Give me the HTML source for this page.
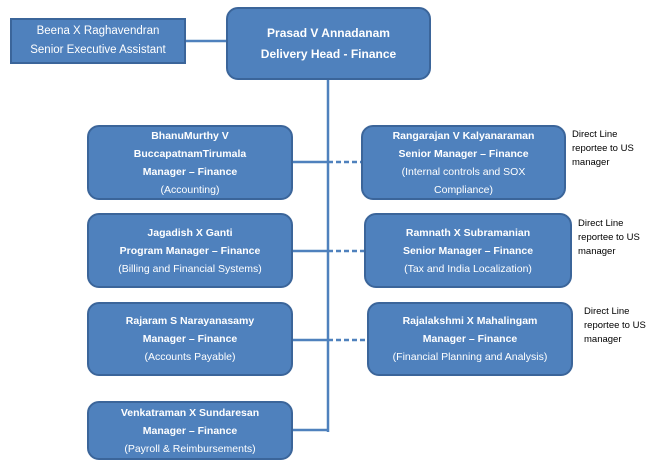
<!DOCTYPE html>
<html><head><meta charset="utf-8"><style>
body{margin:0;width:658px;height:470px;background:#fff;position:relative;overflow:hidden;font-family:"Liberation Sans",sans-serif}
.b{position:absolute;box-sizing:border-box;background:#4f81bd;border:2px solid #3b659a;border-radius:12px;color:#fff;font-size:10.5px;line-height:18px;text-align:center;display:flex;flex-direction:column;justify-content:center}
.b b{font-weight:bold}
.n{position:absolute;font-size:9.5px;line-height:14px;color:#000}
</style></head><body>
<svg width="658" height="470" style="position:absolute;left:0;top:0">
<g stroke="#4f81bd" stroke-width="2.5" fill="none">
<line x1="186" y1="41" x2="226" y2="41"/>
<line x1="328" y1="80" x2="328" y2="432"/>
<line x1="293" y1="162" x2="328" y2="162"/>
<line x1="293" y1="251" x2="328" y2="251"/>
<line x1="293" y1="340" x2="328" y2="340"/>
<line x1="293" y1="430" x2="328" y2="430"/>
<g stroke-dasharray="5,3"><line x1="328" y1="162" x2="361" y2="162"/><line x1="328" y1="251" x2="364" y2="251"/><line x1="328" y1="340" x2="367" y2="340"/></g>
</g></svg>
<div class="b" style="left:10px;top:18px;width:176px;height:46px;border-radius:0;font-size:11.5px;line-height:19px"><span>Beena X Raghavendran</span><span>Senior Executive Assistant</span></div>
<div class="b" style="left:226px;top:7px;width:205px;height:73px;font-size:12px;line-height:21px"><b>Prasad V Annadanam</b><b>Delivery Head - Finance</b></div>
<div class="b" style="left:87px;top:125px;width:206px;height:75px"><b>BhanuMurthy V</b><b>BuccapatnamTirumala</b><b>Manager – Finance</b><span>(Accounting)</span></div>
<div class="b" style="left:87px;top:213px;width:206px;height:75px"><b>Jagadish X Ganti</b><b>Program Manager – Finance</b><span>(Billing and Financial Systems)</span></div>
<div class="b" style="left:87px;top:302px;width:206px;height:74px"><b>Rajaram S Narayanasamy</b><b>Manager – Finance</b><span>(Accounts Payable)</span></div>
<div class="b" style="left:87px;top:401px;width:206px;height:59px"><b>Venkatraman X Sundaresan</b><b>Manager – Finance</b><span>(Payroll &amp; Reimbursements)</span></div>
<div class="b" style="left:361px;top:125px;width:205px;height:75px"><b>Rangarajan V Kalyanaraman</b><b>Senior Manager – Finance</b><span>(Internal controls and SOX</span><span>Compliance)</span></div>
<div class="b" style="left:364px;top:213px;width:208px;height:75px"><b>Ramnath X Subramanian</b><b>Senior Manager – Finance</b><span>(Tax and India Localization)</span></div>
<div class="b" style="left:367px;top:302px;width:206px;height:74px"><b>Rajalakshmi X Mahalingam</b><b>Manager – Finance</b><span>(Financial Planning and Analysis)</span></div>
<div class="n" style="left:572px;top:128px">Direct Line<br>reportee to US<br>manager</div>
<div class="n" style="left:578px;top:217px">Direct Line<br>reportee to US<br>manager</div>
<div class="n" style="left:584px;top:305px">Direct Line<br>reportee to US<br>manager</div>
</body></html>
